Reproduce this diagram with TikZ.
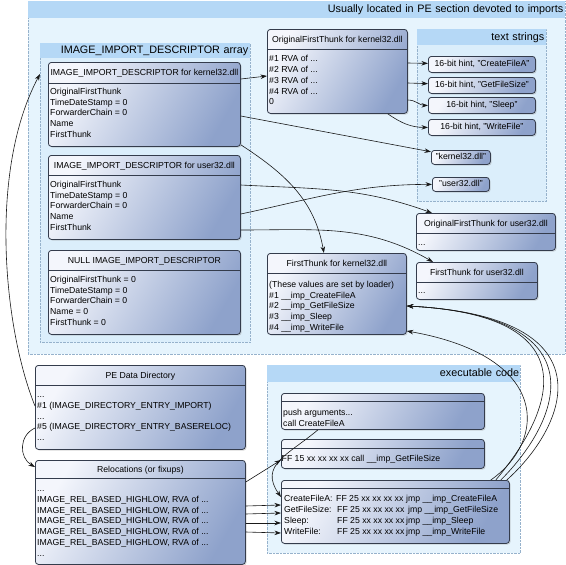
\documentclass[tikz,border=0pt]{standalone}
\usepackage{fontspec}
\setmainfont{Liberation Sans}
\usepackage{tikz}
\usetikzlibrary{arrows.meta, shadows}
\definecolor{zonefill}{RGB}{230, 244, 253}
\definecolor{zoneinner}{RGB}{219, 238, 251}
\definecolor{zoneband}{RGB}{181, 216, 246}
\definecolor{zoneline}{RGB}{150, 178, 204}
\definecolor{cardlight}{RGB}{244, 246, 252}
\definecolor{carddark}{RGB}{142, 162, 203}
\definecolor{cardline}{RGB}{52, 60, 76}
\definecolor{wire}{RGB}{25, 25, 25}

\begin{document}
\begin{tikzpicture}[
  x=1pt, y=-1pt,
  font=\fontsize{8.7}{10.8}\selectfont,
  zone/.style={draw=zoneline, densely dotted, fill=zonefill, anchor=north west, inner sep=0pt},
  zonehead/.style={fill=zoneband, anchor=north west, inner xsep=2pt, inner ysep=0pt,
                   align=right, text height=7.8pt, text depth=2.2pt,
                   font=\fontsize{10.8}{12}\selectfont},
  card/.style={draw=cardline, line width=0.8pt, rounded corners=3pt,
               top color=cardlight, bottom color=carddark, shading angle=60,
               drop shadow={shadow xshift=1.2pt, shadow yshift=-1.2pt, opacity=0.3},
               anchor=north west, inner sep=0pt},
  cardtitle/.style={inner sep=0pt, text height=6.3pt, text depth=1.8pt},
  cardbody/.style={anchor=north west, inner sep=0pt, align=left},
  split/.style={draw=cardline, line width=0.7pt},
  arr/.style={-{Stealth[length=6.5pt, width=4.5pt]}, line width=0.6pt, color=wire}
]
  \useasboundingbox (0,0) rectangle (566,565);

  \node[zone, minimum width=537, minimum height=353] (imports) at (28,0.5) {};
  \node[zonehead, text width=533, minimum height=17] (importsH) at (imports.north west)
    {Usually located in PE section devoted to imports};
  \node[zone, fill=zoneinner, minimum width=210, minimum height=299] (descs) at (40,43) {};
  \node[zonehead, text width=206, minimum height=15] (descsH) at (descs.north west)
    {IMAGE\_IMPORT\_DESCRIPTOR array};
  \node[zone, fill=zoneinner, minimum width=129, minimum height=172] (strs) at (417,29) {};
  \node[zonehead, text width=125, minimum height=16] (strsH) at (strs.north west) {text strings};
  \node[zone, minimum width=253, minimum height=188] (exec) at (267,365) {};
  \node[zonehead, text width=251, minimum height=17, inner xsep=1pt] (execH) at (exec.north west)
    {executable code};

  \node[card, minimum width=192, minimum height=84] (kdesc) at (48,62) {};
  \node[cardtitle] (kdescT) at ([yshift=-11]kdesc.north) {IMAGE\_IMPORT\_DESCRIPTOR for kernel32.dll};
  \draw[split] ([yshift=-21]kdesc.north west) -- ([yshift=-21]kdesc.north east);
  \node[cardbody] (kdescB) at ([xshift=2, yshift=-24.5]kdesc.north west)
    {\strut OriginalFirstThunk\\TimeDateStamp = 0\\ForwarderChain = 0\\Name\\FirstThunk};

  \node[card, minimum width=192, minimum height=84] (udesc) at (48,155) {};
  \node[cardtitle] (udescT) at ([yshift=-11]udesc.north) {IMAGE\_IMPORT\_DESCRIPTOR for user32.dll};
  \draw[split] ([yshift=-20]udesc.north west) -- ([yshift=-20]udesc.north east);
  \node[cardbody] (udescB) at ([xshift=2, yshift=-24.5]udesc.north west)
    {\strut OriginalFirstThunk\\TimeDateStamp = 0\\ForwarderChain = 0\\Name\\FirstThunk};

  \node[card, minimum width=192, minimum height=84] (ndesc) at (48,250) {};
  \node[cardtitle] (ndescT) at ([yshift=-11]ndesc.north) {NULL IMAGE\_IMPORT\_DESCRIPTOR};
  \draw[split] ([yshift=-20]ndesc.north west) -- ([yshift=-20]ndesc.north east);
  \node[cardbody] (ndescB) at ([xshift=2, yshift=-24.5]ndesc.north west)
    {\strut OriginalFirstThunk = 0\\TimeDateStamp = 0\\ForwarderChain = 0\\Name = 0\\FirstThunk = 0};

  \node[card, minimum width=140, minimum height=84] (koft) at (267,29) {};
  \node[cardtitle] (koftT) at ([yshift=-11]koft.north) {OriginalFirstThunk for kernel32.dll};
  \draw[split] ([yshift=-20]koft.north west) -- ([yshift=-20]koft.north east);
  \node[cardbody] (koftB) at ([xshift=2, yshift=-25]koft.north west)
    {\strut\#1 RVA of ...\\\#2 RVA of ...\\\#3 RVA of ...\\\#4 RVA of ...\\0};

  \node[card, cardtitle, minimum width=107, minimum height=16] (hint1) at (428,56) {16-bit hint, "CreateFileA"};
  \node[card, cardtitle, minimum width=107, minimum height=16] (hint2) at (428,77) {16-bit hint, "GetFileSize"};
  \node[card, cardtitle, minimum width=107, minimum height=16] (hint3) at (428,97) {16-bit hint, "Sleep"};
  \node[card, cardtitle, minimum width=107, minimum height=16] (hint4) at (428,119) {16-bit hint, "WriteFile"};
  \node[card, cardtitle, minimum width=59, minimum height=14] (kstr) at (431,150) {"kernel32.dll"};
  \node[card, cardtitle, minimum width=57, minimum height=14] (ustr) at (432,177) {"user32.dll"};

  \node[card, minimum width=139, minimum height=37] (uoft) at (416,213) {};
  \node[cardtitle] (uoftT) at ([yshift=-11]uoft.north) {OriginalFirstThunk for user32.dll};
  \draw[split] ([yshift=-20]uoft.north west) -- ([yshift=-20]uoft.north east);
  \node[cardbody] (uoftB) at ([xshift=2, yshift=-24.5]uoft.north west) {\strut...};

  \node[card, minimum width=121, minimum height=37] (uft) at (416,262) {};
  \node[cardtitle] (uftT) at ([yshift=-11]uft.north) {FirstThunk for user32.dll};
  \draw[split] ([yshift=-20]uft.north west) -- ([yshift=-20]uft.north east);
  \node[cardbody] (uftB) at ([xshift=2, yshift=-24]uft.north west) {\strut...};

  \node[card, minimum width=139, minimum height=81] (kft) at (267,253) {};
  \node[cardtitle] (kftT) at ([yshift=-11]kft.north) {FirstThunk for kernel32.dll};
  \draw[split] ([yshift=-20]kft.north west) -- ([yshift=-20]kft.north east);
  \node[cardbody] (kftB) at ([xshift=2, yshift=-26.5]kft.north west)
    {\strut(These values are set by loader)\\\#1 \_\_imp\_CreateFileA\\\#2 \_\_imp\_GetFileSize\\
     \#3 \_\_imp\_Sleep\\\#4 \_\_imp\_WriteFile};

  \node[card, minimum width=210, minimum height=84] (pedir) at (35,365) {};
  \node[cardtitle] (pedirT) at ([yshift=-11]pedir.north) {PE Data Directory};
  \draw[split] ([yshift=-20]pedir.north west) -- ([yshift=-20]pedir.north east);
  \node[cardbody] (pedirB) at ([xshift=2, yshift=-24.7]pedir.north west)
    {\strut...\\\#1 (IMAGE\_DIRECTORY\_ENTRY\_IMPORT)\\...\\\#5 (IMAGE\_DIRECTORY\_ENTRY\_BASERELOC)\\...};

  \node[card, minimum width=210, minimum height=104] (reloc) at (35,460) {};
  \node[cardtitle] (relocT) at ([yshift=-10]reloc.north) {Relocations (or fixups)};
  \draw[split] ([yshift=-18]reloc.north west) -- ([yshift=-18]reloc.north east);
  \node[cardbody] (relocB) at ([xshift=2, yshift=-23.7]reloc.north west)
    {\strut...\\IMAGE\_REL\_BASED\_HIGHLOW, RVA of ...\\IMAGE\_REL\_BASED\_HIGHLOW, RVA of ...\\
     IMAGE\_REL\_BASED\_HIGHLOW, RVA of ...\\IMAGE\_REL\_BASED\_HIGHLOW, RVA of ...\\
     IMAGE\_REL\_BASED\_HIGHLOW, RVA of ...\\...};

  \node[card, minimum width=203, minimum height=36] (code1) at (281,393) {};
  \draw[split] ([yshift=-8]code1.north west) -- ([yshift=-8]code1.north east);
  \node[cardbody] (code1B) at ([xshift=2, yshift=-14.5]code1.north west)
    {\strut push arguments...\\call CreateFileA};

  \node[card, minimum width=203, minimum height=29] (code2) at (281,439) {};
  \draw[split] ([yshift=-9]code2.north west) -- ([yshift=-9]code2.north east);
  \node[cardbody] (code2B) at ([xshift=0.5, yshift=-14.5]code2.north west)
    {\strut FF 15 xx xx xx xx call \_\_imp\_GetFileSize};

  \node[card, minimum width=228, minimum height=63] (code3) at (281,480) {};
  \draw[split] ([yshift=-8]code3.north west) -- ([yshift=-8]code3.north east);
  \node[cardbody] (code3B) at ([xshift=3, yshift=-14.2]code3.north west)
    {\strut\makebox[52pt][l]{CreateFileA:}\makebox[70pt][l]{FF 25 xx xx xx xx}jmp \_\_imp\_CreateFileA\\
     \makebox[53pt][l]{GetFileSize:}\makebox[71pt][l]{FF 25 xx xx xx xx}jmp \_\_imp\_GetFileSize\\
     \makebox[53pt][l]{Sleep:}\makebox[69pt][l]{FF 25 xx xx xx xx}jmp \_\_imp\_Sleep\\
     \makebox[53pt][l]{WriteFile:}\makebox[69pt][l]{FF 25 xx xx xx xx}jmp \_\_imp\_WriteFile};

  \draw[arr] ([yshift=-17]kdesc.north east) -- ([yshift=-47]koft.north west);
  \draw[arr] ([yshift=-54]kdesc.north east) -- (kstr);
  \draw[arr] ([yshift=2]kdesc.south east) to[out=-33, in=100] ([xshift=-13]kft.north);
  \draw[arr] ([yshift=-30]udesc.north east) to[out=-3, in=160] ([xshift=16]uoft.north west);
  \draw[arr] ([yshift=-59]udesc.north east) to[out=12, in=180] (ustr.west);
  \draw[arr] ([yshift=-75]udesc.north east) to[out=0, in=150] ([xshift=17]uft.north west);
  \draw[arr] ([yshift=-34]koft.north east) -- (hint1);
  \draw[arr] ([yshift=-54]koft.north east) -- (hint2);
  \draw[arr] ([yshift=-71]koft.north east) to[out=0, in=180] (hint3.west);
  \draw[arr] ([xshift=-20]koft.south east) to[out=-35, in=180] (hint4.west);
  \draw[arr] ([xshift=-19]code3.north east) to[out=35, in=-10, out distance=69, in distance=146] ([yshift=-78]kft.north east);
  \draw[arr] ([xshift=-14]code3.north east) to[out=50, in=-3, out distance=90, in distance=185] ([yshift=-53]kft.north east);
  \draw[arr] ([xshift=-9]code3.north east) to[out=45, in=-3, out distance=85, in distance=195] ([yshift=-53]kft.north east);
  \draw[arr] ([xshift=-3]code3.north east) to[out=42, in=-3, out distance=82, in distance=205] ([yshift=-53]kft.north east);
  \draw[arr] ([yshift=-41]pedir.north west) to[out=112, in=-118, out distance=84, in distance=110] ([yshift=-31]descs.north west);
  \draw[arr] ([yshift=-63]pedir.north west) to[out=205, in=150, looseness=1.2] ([yshift=-7]reloc.north west);
  \draw[arr] ([yshift=-22]reloc.north east) -- ([yshift=-21]code2.north west);
  \draw[arr] ([xshift=37]code1.south west) to[out=-140, in=125, looseness=1.3] ([yshift=-17]code3.north west);
  \draw[arr] ([yshift=-46]reloc.north east) -- ([yshift=-25]code3.north west);
  \draw[arr] ([yshift=-54]reloc.north east) -- ([yshift=-33]code3.north west);
  \draw[arr] ([yshift=-63]reloc.north east) -- ([yshift=-43]code3.north west);
  \draw[arr] ([yshift=-72]reloc.north east) -- ([yshift=-53]code3.north west);
\end{tikzpicture}
\end{document}
